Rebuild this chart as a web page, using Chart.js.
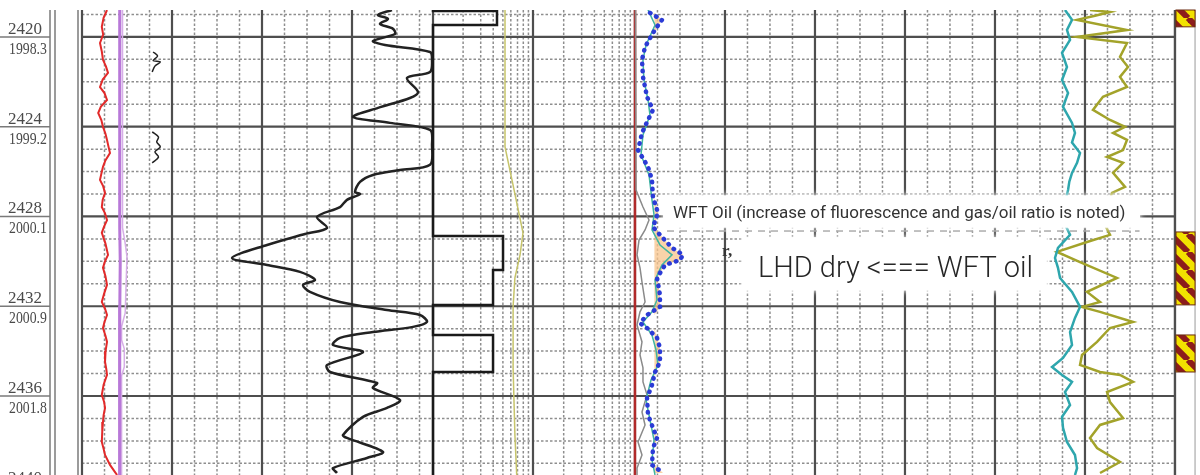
<!DOCTYPE html>
<html>
<head>
<meta charset="utf-8">
<script src="https://cdn.jsdelivr.net/npm/chart.js@4.4.1/dist/chart.umd.min.js"></script>
<style>
html, body { margin: 0; padding: 0; background: #fff; }
canvas { display: block; }
</style>
</head>
<body>
<canvas id="chart" width="1200" height="475"></canvas>
<script>
// depth window (MD, m) and the TVD printed under each depth label
var depthTop = 2418.8;
var depthBottom = 2439.52;
var depthTicks = [2420, 2424, 2428, 2432, 2436, 2440];
var tvdLabels = ["1998.3", "1999.2", "2000.1", "2000.9", "2001.8", "2002.7"];

// curves as [depth, value] with value in grid divisions from the left track edge
var redCurve = [[2418.8,0.278],[2419.15,0.24],[2419.55,0.22],[2419.9,0.235],[2420.27,0.2],[2420.65,0.22],[2421.02,0.233],[2421.3,0.265],[2421.6,0.289],[2421.9,0.23],[2422.23,0.2],[2422.5,0.25],[2422.81,0.278],[2423.1,0.21],[2423.39,0.18],[2423.7,0.215],[2424.01,0.233],[2424.3,0.26],[2424.59,0.278],[2424.9,0.295],[2425.17,0.311],[2425.5,0.26],[2425.79,0.233],[2426.1,0.215],[2426.37,0.2],[2426.65,0.235],[2426.95,0.256],[2427.25,0.23],[2427.58,0.22],[2427.85,0.255],[2428.16,0.278],[2428.45,0.245],[2428.73,0.22],[2429.2,0.26],[2429.71,0.289],[2430.0,0.255],[2430.29,0.233],[2430.65,0.26],[2431.05,0.278],[2431.45,0.245],[2431.81,0.22],[2432.1,0.255],[2432.39,0.278],[2432.7,0.25],[2432.97,0.233],[2433.3,0.26],[2433.59,0.278],[2434.0,0.262],[2434.48,0.256],[2434.8,0.27],[2435.06,0.278],[2435.5,0.24],[2435.95,0.22],[2436.25,0.245],[2436.53,0.256],[2436.85,0.24],[2437.16,0.233],[2437.6,0.225],[2438.05,0.22],[2438.35,0.24],[2438.63,0.256],[2439.07,0.311],[2439.39,0.367],[2439.52,0.39]];
var purpleCurve = [[2418.8,0.42],[2422,0.415],[2426,0.422],[2428.5,0.42],[2430,0.425],[2432,0.42],[2434,0.415],[2436,0.418],[2439.52,0.42]];
var purpleLight = [[2418.8,0.45],[2428.5,0.45],[2429.2,0.48],[2429.8,0.5],[2431.0,0.49],[2432.3,0.48],[2432.9,0.44],[2433.5,0.44],[2433.9,0.47],[2434.7,0.47],[2435.1,0.44],[2439.52,0.44]];
var squiggles = [[2420.67,0.79],[2420.85,0.84],[2421.05,0.79],[2421.12,0.87],[2421.3,0.81],[2421.56,0.78],[2423,null],[2424.23,0.78],[2424.46,0.85],[2424.68,0.83],[2424.9,0.87],[2425.12,0.81],[2425.35,0.85],[2425.61,0.78]];
var grCurve = [[2418.8,3.444],[2419.02,3.289],[2419.2,3.4],[2419.42,3.311],[2419.64,3.456],[2419.87,3.478],[2420.18,3.233],[2420.36,3.367],[2420.67,3.867],[2421.02,3.889],[2421.56,3.867],[2421.83,3.611],[2422.45,3.733],[2422.72,3.644],[2423.16,3.289],[2423.57,3.011],[2423.83,3.422],[2424.14,3.867],[2424.81,3.889],[2425.7,3.867],[2425.93,3.533],[2426.15,3.233],[2426.46,3.089],[2426.91,3.033],[2427.0,3.089],[2427.26,2.944],[2427.58,2.867],[2428.02,2.611],[2428.51,2.722],[2428.78,2.478],[2429.27,2.056],[2429.85,1.667],[2430.16,2.056],[2430.47,2.422],[2430.83,2.589],[2431.05,2.456],[2431.36,2.533],[2431.81,2.867],[2432.17,3.389],[2432.39,3.756],[2432.7,3.833],[2432.92,3.678],[2433.15,3.233],[2433.41,2.867],[2433.73,2.789],[2434.04,3.122],[2434.62,2.722],[2434.93,2.756],[2435.42,3.278],[2435.64,3.233],[2436.18,3.533],[2436.53,3.389],[2436.93,3.122],[2437.74,2.9],[2437.87,2.944],[2438.49,3.344],[2438.76,3.167],[2439.21,2.789],[2439.43,2.833]];
var stepCurve = [[2418.8,3.9],[2418.85,4.611],[2419.47,3.9],[2428.87,4.678],[2430.38,4.567],[2431.94,3.9],[2433.28,4.567],[2434.93,3.9],[2439.52,3.9]];
var yellowCurve = [[2418.8,4.7],[2424.9,4.7],[2426.8,4.8],[2428.73,4.9],[2429.71,4.867],[2430.74,4.81],[2432.0,4.79],[2434.75,4.79],[2437.74,4.81],[2439.52,4.83]];
var redBase = [[2418.8,6.144],[2439.52,6.144]];
var grayCurve = [[2418.8,6.15],[2426.82,6.156],[2427.58,6.233],[2428.16,6.3],[2428.6,6.256],[2429.05,6.189],[2429.71,6.167],[2430.29,6.2],[2430.92,6.222],[2431.81,6.256],[2432.25,6.2],[2432.83,6.167],[2433.59,6.222],[2434.17,6.2],[2434.75,6.233],[2435.37,6.233],[2435.95,6.278],[2436.71,6.222],[2437.29,6.256],[2438.05,6.178],[2438.63,6.222],[2439.21,6.167],[2439.52,6.167]];
var blueCurve = [[2418.93,6.311],[2419.24,6.444],[2419.55,6.389],[2419.82,6.344],[2420.45,6.256],[2421.02,6.222],[2421.78,6.233],[2422.67,6.278],[2423.25,6.344],[2423.7,6.289],[2424.28,6.222],[2425.04,6.178],[2425.79,6.289],[2426.37,6.333],[2427.13,6.344],[2427.84,6.4],[2428.47,6.344],[2428.82,6.422],[2429.4,6.556],[2429.71,6.678],[2429.94,6.644],[2430.16,6.478],[2430.74,6.389],[2431.5,6.422],[2432.03,6.422],[2432.39,6.278],[2432.75,6.2],[2432.97,6.278],[2433.41,6.389],[2433.86,6.422],[2434.48,6.422],[2434.93,6.367],[2435.51,6.333],[2436.09,6.278],[2436.84,6.289],[2437.42,6.344],[2437.87,6.389],[2438.32,6.344],[2439.07,6.333],[2439.43,6.456]];
var tealThin = [[2418.8,6.289],[2419.47,6.367],[2420.36,6.267],[2421.02,6.233],[2421.92,6.244],[2422.81,6.289],[2423.48,6.311],[2424.37,6.233],[2425.26,6.211],[2426.15,6.3],[2427.26,6.333],[2427.93,6.356],[2428.6,6.333],[2429.27,6.422],[2429.71,6.556],[2430.16,6.444],[2430.83,6.367],[2431.72,6.389],[2432.25,6.333],[2432.7,6.233],[2433.28,6.333],[2433.95,6.378],[2434.62,6.4],[2435.29,6.322],[2436.18,6.267],[2437.07,6.311],[2437.96,6.356],[2438.85,6.333],[2439.52,6.367]];
var oilBase = 6.36;
var tealCurve = [[2418.8,10.922],[2419.24,11.0],[2419.69,10.944],[2420.13,10.978],[2420.71,10.889],[2421.34,10.944],[2421.92,10.889],[2422.5,10.956],[2423.12,10.9],[2423.83,11.0],[2424.28,11.033],[2424.7,11.0],[2425.17,11.089],[2425.61,11.056],[2426.06,11.0],[2426.45,10.97],[2426.82,10.956],[2427.4,10.922],[2428.16,10.9],[2428.82,10.978],[2429.4,10.844],[2429.85,10.811],[2430.29,10.844],[2430.74,10.867],[2431.36,11.0],[2432.03,11.089],[2432.52,11.033],[2433.15,10.978],[2433.73,11.0],[2434.3,10.9],[2434.71,10.778],[2435.06,10.889],[2435.37,11.0],[2435.82,10.922],[2436.4,10.978],[2436.93,10.889],[2437.42,10.9],[2438.05,10.944],[2438.63,11.033],[2439.21,11.056],[2439.52,11.033]];
var oliveCurve = [[2418.8,11.2],[2418.89,11.422],[2419.06,11.256],[2419.24,11.056],[2419.69,11.611],[2420.0,11.056],[2420.27,11.611],[2420.89,11.533],[2421.34,11.622],[2421.78,11.533],[2422.23,11.611],[2422.67,11.344],[2423.25,11.233],[2423.7,11.422],[2424.01,11.589],[2424.28,11.456],[2424.59,11.611],[2425.04,11.567],[2425.35,11.389],[2425.61,11.567],[2426.06,11.456],[2426.68,11.589],[2426.95,11.444],[2427.49,11.4],[2427.93,11.478],[2428.38,11.367],[2428.82,11.422],[2429.14,11.167],[2429.58,10.833],[2430.03,11.089],[2430.74,11.5],[2431.36,11.167],[2431.81,11.311],[2432.03,11.111],[2432.25,11.311],[2432.7,11.678],[2432.97,11.422],[2433.59,11.278],[2434.17,11.111],[2434.62,11.089],[2434.93,11.311],[2435.06,11.533],[2435.37,11.678],[2435.82,11.389],[2436.27,11.422],[2436.98,11.567],[2437.29,11.311],[2437.87,11.2],[2438.32,11.278],[2438.94,11.533],[2439.43,11.311]];

// lithology column: hatched intervals
var lithTop = [2418.8, 2428.69, 2433.28];
var lithBase = [2419.55, 2431.94, 2434.93];

var noteTexts = ["WFT Oil (increase of fluorescence and gas/oil ratio is noted)", "LHD dry <=== WFT oil"];

function pts(arr) {
    return arr.map(function (p) { return { y: p[0], x: p[1] }; });
}

function curve(arr, color, width, extra) {
    var ds = { data: pts(arr), borderColor: color, borderWidth: width, pointRadius: 0, fill: false, tension: 0 };
    if (extra) for (var k in extra) ds[k] = extra[k];
    return ds;
}

// clip the blue curve at the oil cutoff to shade the show
var oilShow = blueCurve.map(function (p) { return [p[0], Math.max(p[1], oilBase)]; });

function hline(c, x1, x2, y) { c.beginPath(); c.moveTo(x1, y); c.lineTo(x2, y); c.stroke(); }
function vline(c, x, y1, y2) { c.beginPath(); c.moveTo(x, y1); c.lineTo(x, y2); c.stroke(); }

// grid positions in divisions: linear track, two log decades, linear track
var trackEnd = 12.144;
var majorX = [0, 1, 2, 3, 3.9, 5.011, 6.144];
var minorX = [];
for (var i = 1; i < 16; i++) if (i % 4) minorX.push(i / 4);
[[3.9, 5.011], [5.011, 6.144]].forEach(function (dec) {
    for (var k = 2; k <= 9; k++) minorX.push(dec[0] + (dec[1] - dec[0]) * Math.log10(k));
});
for (var j = 1; j <= 6; j++) majorX.push(6.144 + j);
for (var q = 1; q < 24; q++) if (q % 4) minorX.push(6.144 + q / 4);

var logGrid = {
    id: "logGrid",
    beforeDatasetsDraw: function (chart) {
        var c = chart.ctx, a = chart.chartArea;
        var xs = chart.scales.x, ys = chart.scales.y;
        var xEnd = xs.getPixelForValue(trackEnd);
        c.save();
        // minor lines
        c.strokeStyle = "#8e8e8e";
        c.lineWidth = 1.5;
        c.setLineDash([2.5, 2]);
        for (var d = Math.ceil(depthTop); d <= depthBottom; d++) {
            if (d % 4 === 0) continue;
            hline(c, a.left, xEnd, ys.getPixelForValue(d));
        }
        minorX.forEach(function (v) { vline(c, xs.getPixelForValue(v), a.top, a.bottom); });
        c.setLineDash([]);
        // major lines
        c.strokeStyle = "#4e4e4e";
        c.lineWidth = 2.2;
        depthTicks.forEach(function (d) {
            var y = ys.getPixelForValue(d);
            hline(c, a.left, xEnd, y);
        });
        majorX.forEach(function (v) { vline(c, xs.getPixelForValue(v), a.top, a.bottom); });
        vline(c, xEnd, a.top, a.bottom);
        c.strokeStyle = "#aaaaaa";
        c.lineWidth = 1.2;
        vline(c, xs.getPixelForValue(12.367), a.top, a.bottom);

        // lithology hatch
        var pc = document.createElement("canvas");
        pc.width = 18; pc.height = 18;
        var p = pc.getContext("2d");
        p.fillStyle = "#f2e200";
        p.fillRect(0, 0, 18, 18);
        p.strokeStyle = "#8c1c1c";
        p.lineWidth = 6;
        [-18, 0, 18].forEach(function (o) {
            p.beginPath(); p.moveTo(o, 0); p.lineTo(o + 18, 18); p.stroke();
        });
        var pat = c.createPattern(pc, "repeat");
        var lx1 = xs.getPixelForValue(trackEnd) + 1, lx2 = xs.getPixelForValue(12.367);
        for (var n = 0; n < lithTop.length; n++) {
            var t = Math.max(ys.getPixelForValue(lithTop[n]), a.top), b = ys.getPixelForValue(lithBase[n]);
            c.fillStyle = pat;
            c.fillRect(lx1, t, lx2 - lx1, b - t);
            c.strokeStyle = "#6a2a10";
            c.lineWidth = 1;
            c.strokeRect(lx1, t, lx2 - lx1, b - t);
        }

        // depth column
        c.strokeStyle = "#7a7a7a";
        c.lineWidth = 1.5;
        depthTicks.forEach(function (d) {
            var y = ys.getPixelForValue(d);
            hline(c, 0, a.left - 32, y);
        });
        vline(c, a.left - 32, a.top, a.bottom);
        vline(c, a.left - 27, a.top, a.bottom);
        vline(c, a.left - 4, a.top, a.bottom);
        c.fillStyle = "#4a4a4a";
        c.textAlign = "left";
        c.textBaseline = "alphabetic";
        depthTicks.forEach(function (d, n) {
            var y = ys.getPixelForValue(d);
            c.font = "17px 'Liberation Serif'";
            c.fillText(String(d), 8, y - 3);
            c.save();
            c.translate(9, y + 17);
            c.scale(0.86, 1);
            c.font = "16px 'Liberation Serif'";
            c.fillText(tvdLabels[n], 0, 0);
            c.restore();
        });
        c.restore();
    },
    afterDatasetsDraw: function (chart) {
        var c = chart.ctx;
        var xs = chart.scales.x, ys = chart.scales.y;
        function X(v) { return xs.getPixelForValue(v); }
        function Y(d) { return ys.getPixelForValue(d); }
        c.save();
        // small log marks
        c.fillStyle = "#333";
        c.font = "bold 17px 'Liberation Serif'";
        c.fillText("r,", X(7.11), Y(2429.76));
        c.strokeStyle = "#999";
        c.lineWidth = 1.5;
        c.setLineDash([7, 6]);
        hline(c, X(6.5), X(11.75), Y(2428.65));
        c.setLineDash([]);
        // note boxes
        c.shadowColor = "rgba(255,255,255,1)";
        c.shadowBlur = 6;
        c.fillStyle = "#ffffff";
        c.fillRect(X(6.456), Y(2427.06), X(11.756) - X(6.456), Y(2428.5) - Y(2427.06));
        c.fillRect(X(7.33), Y(2428.92), X(10.72) - X(7.33), Y(2431.3) - Y(2428.92));
        c.shadowBlur = 0;
        c.fillStyle = "#333333";
        c.textAlign = "left";
        c.font = "17px Roboto";
        c.fillText(noteTexts[0], X(6.567), Y(2428.07));
        c.fillStyle = "#262626";
        c.font = "300 29px Roboto";
        c.fillText(noteTexts[1], X(7.51), Y(2430.7));
        c.restore();
    }
};

var ctx = document.getElementById("chart").getContext("2d");
var chart = new Chart(ctx, {
    type: "line",
    data: {
        datasets: [
            curve(blueCurve, "#2b3bd6", 4.5, { borderDash: [0.5, 6.5], borderCapStyle: "round" }),
            curve(tealThin, "#3fb5a0", 1.5),
            curve(grayCurve, "#8a8a8a", 1.5),
            curve(redBase, "#b02a2a", 2.5),
            curve(oilShow, "rgba(0,0,0,0)", 0, { fill: { value: oilBase }, backgroundColor: "rgba(248,196,140,0.75)" }),
            curve(tealCurve, "#2ea6ad", 2.5),
            curve(oliveCurve, "#a3a32a", 2.5),
            curve(stepCurve, "#1a1a1a", 2.5, { stepped: "after" }),
            curve(grCurve, "#222222", 2.5, { tension: 0.3 }),
            curve(yellowCurve, "#c6c46a", 1.5),
            curve(squiggles, "#222222", 1.5, { tension: 0.3 }),
            curve(redCurve, "#e22a2a", 2),
            curve(purpleCurve, "#b878d8", 3),
            curve(purpleLight, "#d6aee6", 1.5)
        ]
    },
    options: {
        indexAxis: "y",
        responsive: false,
        animation: false,
        devicePixelRatio: 1,
        layout: { padding: { top: 10, right: 0, bottom: 0, left: 0 } },
        plugins: { legend: { display: false }, tooltip: { enabled: false } },
        scales: {
            x: { type: "linear", min: 0, max: 12.422, display: false },
            y: {
                type: "linear",
                min: depthTop,
                max: depthBottom,
                reverse: true,
                ticks: { display: false },
                grid: { display: false },
                border: { display: false },
                afterFit: function (s) { s.width = 82; }
            }
        }
    },
    plugins: [logGrid]
});
</script>
</body>
</html>
